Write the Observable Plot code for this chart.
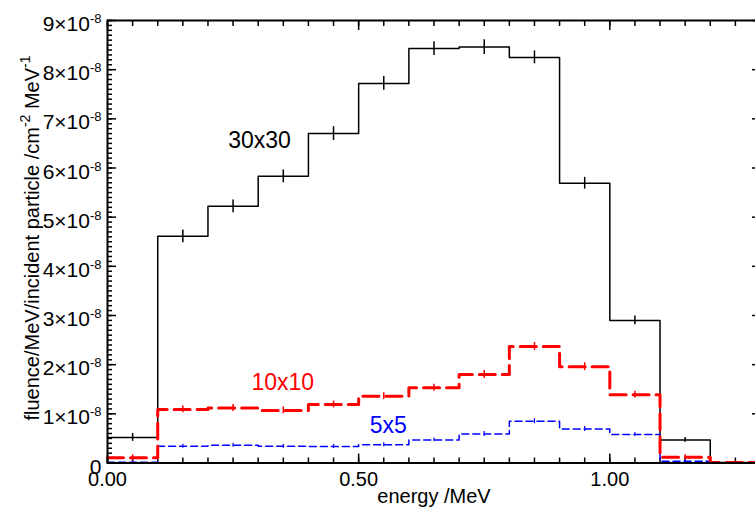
<!DOCTYPE html>
<html><head><meta charset="utf-8">
<script src="https://cdn.jsdelivr.net/npm/d3@7"></script>
<script src="https://cdn.jsdelivr.net/npm/@observablehq/plot@0.6"></script>
<style>
html,body{margin:0;padding:0;background:#fff;overflow:hidden;width:755px;height:512px}
#chart svg{display:block;max-width:none !important}
</style></head><body><div id="chart"></div>
<script>
// energy bin edges (MeV)
const binEdges = [0,0.1,0.2,0.3,0.4,0.5,0.6,0.7,0.8,0.9,1.0,1.1,1.2,1.3];
// fluence per bin, in units of 1e-8 /cm^2/MeV/incident particle
const fluence30 = [0.52,4.61,5.22,5.83,6.70,7.72,8.43,8.46,8.25,5.69,2.90,0.47,0.01];
const fluence10 = [0.106,1.09,1.12,1.07,1.19,1.36,1.53,1.80,2.37,1.96,1.39,0.118,0.01];
const fluence5  = [0.016,0.34,0.36,0.34,0.335,0.37,0.47,0.59,0.85,0.69,0.58,0.037,0.005];
const err30 = [0.08,0.13,0.13,0.13,0.14,0.14,0.14,0.15,0.13,0.12,0.09,0.05,0];
const err10 = [0.06,0.07,0.07,0.07,0.07,0.07,0.07,0.08,0.08,0.08,0.07,0.05,0];
const err5  = [0.03,0.04,0.04,0.04,0.04,0.04,0.04,0.05,0.05,0.05,0.04,0.03,0];
const yTicks = [0,1,2,3,4,5,6,7,8,9];
const yTickLabels = ["0","1×10^{-8}","2×10^{-8}","3×10^{-8}","4×10^{-8}","5×10^{-8}","6×10^{-8}","7×10^{-8}","8×10^{-8}","9×10^{-8}"];
const xTicks = [0,0.5,1.0];
const xTickLabels = ["0.00","0.50","1.00"];
const seriesNames = ["30x30","10x10","5x5"];
const seriesColors = ["#000000","#ff0000","#0000ff"];

function steps(vals){
  return binEdges.map((e,i)=>({x:e, y: vals[Math.min(i, vals.length-1)]}));
}
function bars(vals, errs){
  return vals.map((v,i)=>({x:(binEdges[i]+binEdges[i+1])/2, y1:v-errs[i], y2:v+errs[i]})).filter(d=>d.y2>d.y1);
}
const yMinor = d3.range(0, 90.5, 1).map(d=>d/10);
const xMinor = d3.range(0, 26.5, 1).map(d=>d/20);

const tickOpts = {fill:"none", label:null, strokeWidth:1.5};
const svg = Plot.plot({
  width: 762, height: 512,
  marginLeft: 107, marginRight: 2, marginTop: 20, marginBottom: 49.5,
  style: {fontFamily: "'Liberation Sans', Arial, sans-serif", fontSize: "20px", background: "#fff", color: "#000", maxWidth: "none"},
  x: {domain: [0, 1.3]},
  y: {domain: [0, 9]},
  marks: [
    Plot.axisY(yMinor, {...tickOpts, anchor:"left", tickSize:-5}),
    Plot.axisY(yTicks, {...tickOpts, anchor:"left", tickSize:-9}),
    Plot.axisY(yMinor, {...tickOpts, anchor:"right", tickSize:-5}),
    Plot.axisY(yTicks, {...tickOpts, anchor:"right", tickSize:-9}),
    Plot.axisX(xMinor, {...tickOpts, anchor:"bottom", tickSize:-5}),
    Plot.axisX(xTicks, {...tickOpts, anchor:"bottom", tickSize:-9}),
    Plot.axisX(xMinor, {...tickOpts, anchor:"top", tickSize:-5}),
    Plot.axisX(xTicks, {...tickOpts, anchor:"top", tickSize:-9}),
    Plot.text(yTicks, {y:d=>d, text:(d,i)=>yTickLabels[i], frameAnchor:"left", textAnchor:"end", lineAnchor:"middle", fontSize:21, dx:-6, dy:3.8}),
    Plot.text(xTicks, {x:d=>d, text:(d,i)=>xTickLabels[i], frameAnchor:"bottom", textAnchor:"middle", lineAnchor:"middle", fontSize:20, dy:16.1}),
    Plot.line(steps(fluence30), {x:"x", y:"y", curve:"step-after", stroke:seriesColors[0], strokeWidth:1.5}),
    Plot.ruleX(bars(fluence30, err30), {x:"x", y1:"y1", y2:"y2", stroke:seriesColors[0], strokeWidth:1.5}),
    Plot.line(steps(fluence5), {x:"x", y:"y", curve:"step-after", stroke:seriesColors[2], strokeWidth:1.5, strokeDasharray:"7,4"}),
    Plot.ruleX(bars(fluence5, err5), {x:"x", y1:"y1", y2:"y2", stroke:seriesColors[2], strokeWidth:1.2}),
    Plot.line(steps(fluence10), {x:"x", y:"y", curve:"step-after", stroke:seriesColors[1], strokeWidth:3, strokeDasharray:"16,7"}),
    Plot.ruleX(bars(fluence10, err10), {x:"x", y1:"y1", y2:"y2", stroke:seriesColors[1], strokeWidth:1.5}),
    Plot.text([seriesNames[0]], {x:()=>0.3026, y:()=>6.553, text:d=>d, fill:seriesColors[0], fontSize:23}),
    Plot.text([seriesNames[1]], {x:()=>0.3488, y:()=>1.631, text:d=>d, fill:seriesColors[1], fontSize:23}),
    Plot.text([seriesNames[2]], {x:()=>0.5588, y:()=>0.769, text:d=>d, fill:seriesColors[2], fontSize:23}),
    Plot.text(["energy /MeV"], {frameAnchor:"bottom", text:d=>d, fontSize:20, textAnchor:"middle", lineAnchor:"middle", dy:33.1}),
    Plot.text(["fluence/MeV/incident particle /cm^{-2} MeV^{-1}"], {frameAnchor:"left", text:d=>d, fontSize:20, rotate:-90, textAnchor:"middle", lineAnchor:"middle", dx:-74.9, dy:-3.75}),
    Plot.frame({strokeWidth:2})
  ]
});

function applySup(el, supSize, raise){
  const s = el.textContent;
  if (!s.includes("^{")) return;
  const parts = s.split(/\^\{([^}]*)\}/);
  while (el.firstChild) el.removeChild(el.firstChild);
  let shifted = false;
  parts.forEach((p,i)=>{
    if (!p) return;
    const ts = document.createElementNS("http://www.w3.org/2000/svg","tspan");
    ts.textContent = p;
    if (i % 2 === 1) { ts.setAttribute("font-size", supSize); ts.setAttribute("dy", -raise); shifted = true; }
    else if (shifted) { ts.setAttribute("dy", raise); shifted = false; }
    el.appendChild(ts);
  });
}
svg.querySelectorAll("text").forEach(t=>{
  if (t.textContent.includes("fluence")) applySup(t, 14, 9);
  else applySup(t, 13, 8);
});
document.getElementById("chart").appendChild(svg);
</script></body></html>
